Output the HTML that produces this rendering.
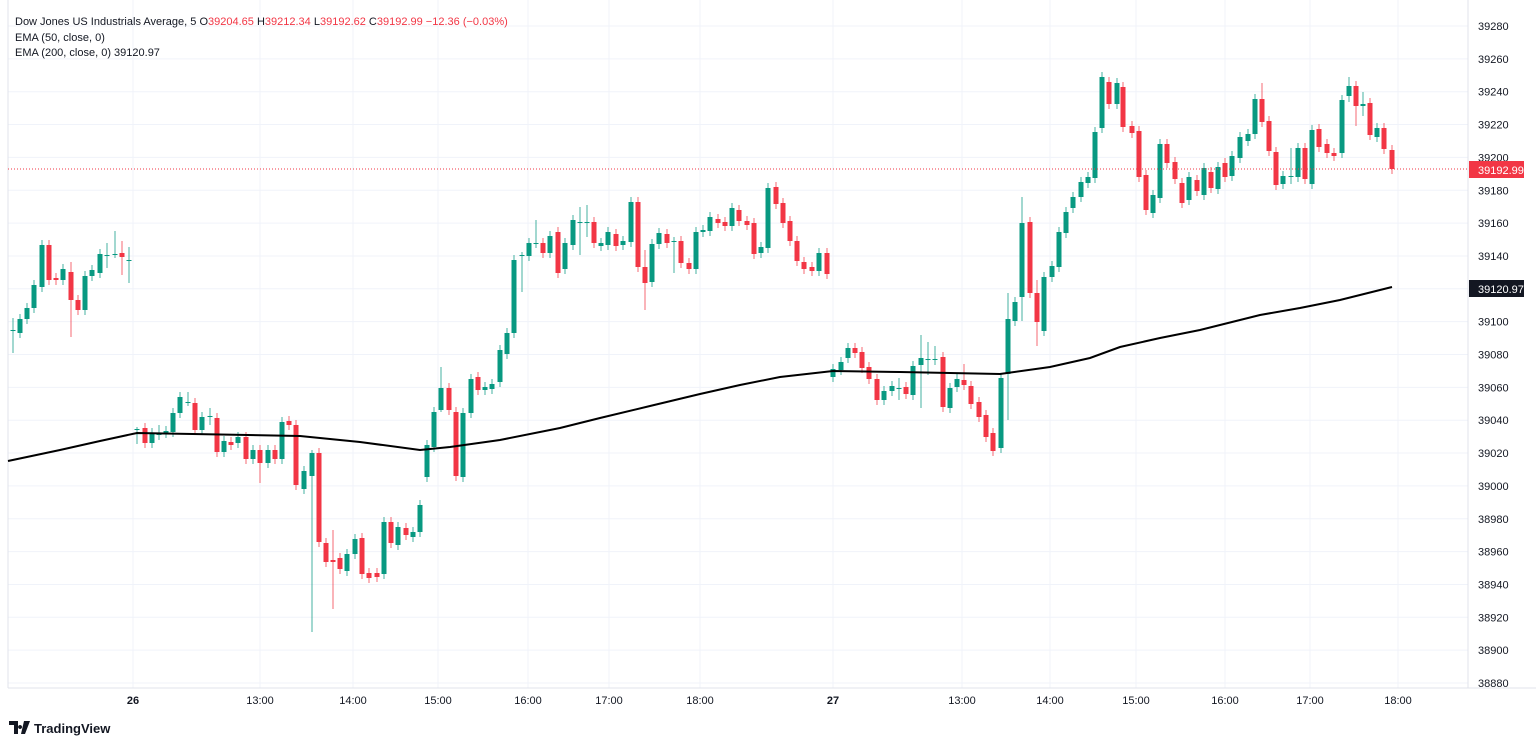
<!DOCTYPE html>
<html><head><meta charset="utf-8"><style>
body{margin:0;background:#fff;font-family:"Liberation Sans",sans-serif;}
svg{display:block}
</style></head><body>
<svg id="s" width="1536" height="744" xmlns="http://www.w3.org/2000/svg" font-family="Liberation Sans, sans-serif"></svg>
<script>
const s=document.getElementById('s');
let h='';
const Y=p=>26+(39280-p)*1.6425;
// grid horizontals
for(let p=38880;p<=39280;p+=20){const y=Y(p);h+=`<line x1="8" x2="1468" y1="${y}" y2="${y}" stroke="#f0f3fa"/>`;
h+=`<text x="1478" y="${y+4}" font-size="11" fill="#131722">${p}</text>`;}
const tl=[[133,'26',1],[260,'13:00'],[353,'14:00'],[438,'15:00'],[528,'16:00'],[609,'17:00'],[700,'18:00'],[833,'27',1],[962,'13:00'],[1050,'14:00'],[1136,'15:00'],[1225,'16:00'],[1310,'17:00'],[1398,'18:00']];
tl.forEach(t=>{h+=`<line x1="${t[0]}" x2="${t[0]}" y1="0" y2="688" stroke="#f0f3fa"/>`;
h+=`<text x="${t[0]}" y="704" font-size="11" text-anchor="middle" fill="#131722" ${t[2]?'font-weight="bold"':''}>${t[1]}</text>`;});
h+=`<line x1="8" x2="8" y1="0" y2="688" stroke="#e0e3eb"/><line x1="8" x2="1536" y1="688" y2="688" stroke="#e0e3eb"/><line x1="1468" x2="1468" y1="0" y2="688" stroke="#e0e3eb"/>`;
const d=[[13,330,330,318,353],[20,333,319],[27,319,308],[34,308,285],[42,287,245],[49,245,280],[56,278,280],[63,280,269],[71,272,300,262,337],[78,300,310],[85,310,276],[92,276,270],[100,273,254],[107,256,255,243,268],[115,255,254,231,258],[122,253,257,241,275],[129,260,260,247,283],
[137,429,429,427,444],[145,428,443],[152,443,433],[159,435,434,425,440],[166,433,431],[173,432,413],[180,413,397],[188,402,402,392,406],[195,403,430],[202,430,417],[210,417,416,408,425],[217,418,452],[224,452,441],[231,442,445],[238,443,437],[246,437,459],[253,459,450],[260,450,463,445,483],[268,463,450],[275,450,459],[282,459,422],[289,421,425],[296,425,485],[304,489,471],[312,476,453,450,632],[319,453,542],[326,543,562],[333,560,562,530,609],[340,558,569],[347,571,554],[355,554,539],[362,538,574],[369,573,578],[377,573,577],[384,574,522],[391,522,543],[398,545,527],[406,528,535],[413,537,532],[420,532,505],[427,477,445],[434,447,412],[441,410,388,367,412],[449,388,410],[456,412,476],[463,477,413],[471,413,379],[478,377,390],[485,390,387],[492,389,384],[500,382,350],[507,354,333],[514,333,260],[522,255,255,252,292],[529,256,243],[536,243,243,220,248],[543,243,253],[550,253,236],[558,232,273],[565,269,243],[573,245,220],[580,222,222,207,255],[587,222,222,205,237],[594,222,243],[601,246,243],[608,245,232],[616,234,246],[623,245,241],[631,242,202],[638,202,267],[645,267,283,250,310],[652,282,244],[659,244,233],[667,234,243],[674,241,241,237,273],[681,241,263],[689,263,269],[696,269,232],[703,232,230],[710,231,217],[718,219,223],[725,222,226],[732,226,208],[739,210,221],[747,221,225],[754,223,254],[761,253,247],[768,248,188],[776,187,204],[783,203,223],[790,221,241],[797,241,261],[804,262,269],[812,267,271],[819,271,253],[827,253,274],
[833,377,369],[841,370,362],[848,358,348],[855,348,353],[862,352,368],[869,367,379],[877,379,400],[884,400,391],[892,391,386],[899,388,388,378,400],[906,387,394],[913,395,366],[921,365,358,335,408],[928,359,359,342,375],[935,359,359,346,365],[943,357,407],[950,408,388],[957,387,379],[964,380,385,364,390],[971,386,404],[979,402,417],[986,415,437],[993,433,451],[1001,448,378],[1008,374,319,293,420],[1015,321,302],[1022,297,223,197,321],[1030,222,293],[1037,293,322,280,346],[1044,331,277],[1052,277,266],[1059,267,232],[1066,233,212],[1073,208,197],[1081,197,182],[1088,183,177],[1095,178,132],[1102,128,77],[1109,82,104],[1117,104,83],[1123,87,127],[1132,126,133],[1139,131,177],[1146,175,210],[1153,213,195],[1160,198,144],[1167,144,163],[1175,162,179],[1182,183,203],[1189,200,177],[1197,180,191],[1204,195,168],[1211,172,188],[1218,189,167],[1225,163,177],[1232,176,156],[1240,158,137],[1248,141,134],[1255,134,99],[1262,99,122,83,127],[1269,121,151],[1276,152,185],[1283,184,176],[1291,176,176,148,184],[1298,177,148],[1305,148,179],[1312,184,130],[1319,129,147],[1327,144,153],[1334,153,156],[1342,153,100],[1349,96,86,77,102],[1356,86,106,81,126],[1363,106,104,92,116],[1370,103,135],[1377,137,128],[1384,128,149],[1392,150,169]];
d.forEach(c=>{const[x,o,cl]=c;const up=cl<=o;const col=up?'#089981':'#f23645';
const top=Math.min(o,cl),bot=Math.max(o,cl);const hi=c[3]!==undefined?c[3]:top-5;const lo=c[4]!==undefined?c[4]:bot+5;
h+=`<line x1="${x}" x2="${x}" y1="${hi}" y2="${lo}" stroke="${col}" stroke-width="1" opacity="0.75"/>`;
h+=`<rect x="${x-2.5}" y="${top}" width="5" height="${Math.max(1,bot-top)}" fill="${col}"/>`;});
const e=[[8,461],[60,450],[100,441],[137,433],[300,436],[360,442],[420,450],[450,447],[500,440],[560,428],[600,418],[650,406],[700,394],[740,385],[780,377],[833,371],[900,372],[1000,374],[1050,367],[1090,358],[1120,347],[1160,338],[1200,330],[1260,315],[1300,308],[1340,300],[1392,287]];
h+=`<polyline points="${e.map(p=>p.join(',')).join(' ')}" fill="none" stroke="#000" stroke-width="2"/>`;
h+=`<line x1="8" x2="1468" y1="169" y2="169" stroke="#f23645" stroke-dasharray="1,2"/>`;
h+=`<rect x="1469" y="161" width="55" height="17" fill="#f23645"/><text x="1478" y="174" font-size="11" fill="#fff">39192.99</text>`;
h+=`<rect x="1469" y="280" width="55" height="17" fill="#131722"/><text x="1478" y="293" font-size="11" fill="#fff">39120.97</text>`;
h+=`<text x="15" y="25" font-size="11" fill="#131722">Dow Jones US Industrials Average, 5 <tspan fill="#131722"> O</tspan><tspan fill="#f23645">39204.65</tspan> H<tspan fill="#f23645">39212.34</tspan> L<tspan fill="#f23645">39192.62</tspan> C<tspan fill="#f23645">39192.99 −12.36 (−0.03%)</tspan></text>`;
h+=`<text x="15" y="41" font-size="11" fill="#131722">EMA (50, close, 0)</text>`;
h+=`<text x="15" y="56" font-size="11" fill="#131722">EMA (200, close, 0) <tspan>39120.97</tspan></text>`;
h+=`<path d="M9 721h9v13h-4v-9h-5z M20 725a2 2 0 1 0 0.1 0z M24 721h6l-5 13h-4z" fill="#131722"/><text x="34" y="733" font-size="13" font-weight="bold" fill="#131722">TradingView</text>`;
s.innerHTML=h;
</script>
</body></html>
